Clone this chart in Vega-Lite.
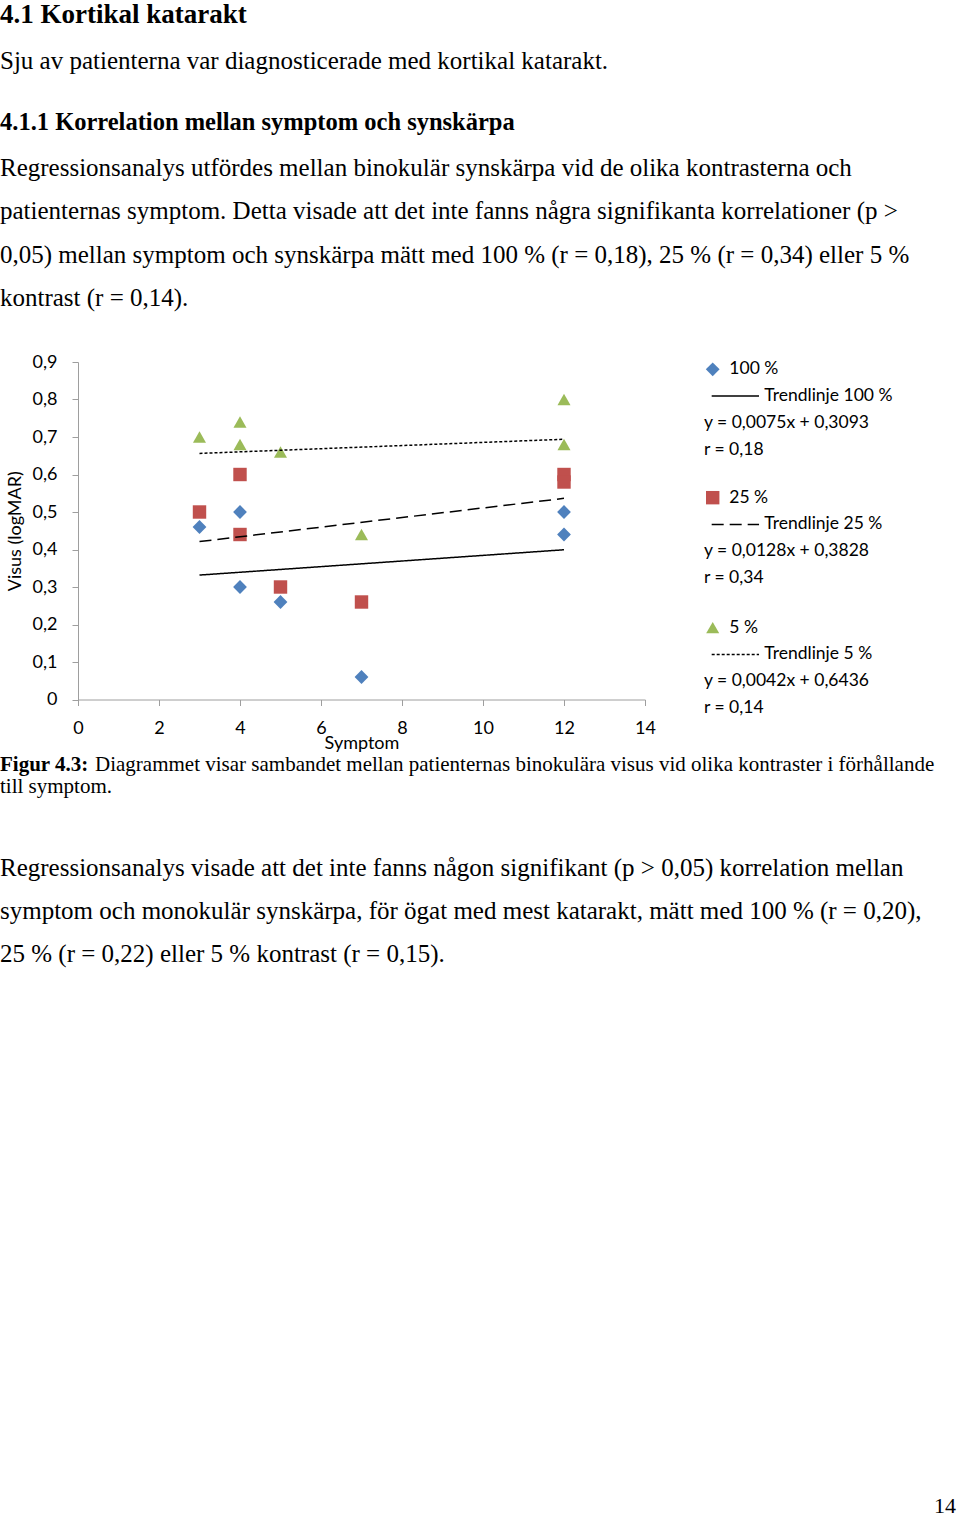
{
  "$schema": "https://vega.github.io/schema/vega-lite/v6.json",
  "padding": 0,
  "background": "white",
  "spacing": 0,
  "config": {
    "view": {"stroke": null},
    "font": "Lato",
    "text": {"color": "black"}
  },
  "datasets": {
    "page": [
      {"block": "top", "style": "h1", "row": 1, "text": "4.1 Kortikal katarakt"},
      {"block": "top", "style": "body", "row": 3.14, "text": "Sju av patienterna var diagnosticerade med kortikal katarakt."},
      {"block": "top", "style": "h2", "row": 5.95, "text": "4.1.1 Korrelation mellan symptom och synskärpa"},
      {"block": "top", "style": "body", "row": 8.05, "text": "Regressionsanalys utfördes mellan binokulär synskärpa vid de olika kontrasterna och"},
      {"block": "top", "style": "body", "row": 10.03, "text": "patienternas symptom. Detta visade att det inte fanns några signifikanta korrelationer (p >"},
      {"block": "top", "style": "body", "row": 12.05, "text": "0,05) mellan symptom och synskärpa mätt med 100 % (r = 0,18), 25 % (r = 0,34) eller 5 %"},
      {"block": "top", "style": "body", "row": 14.03, "text": "kontrast (r = 0,14)."},
      {"block": "bottom", "style": "captionlabel", "row": 0.78, "text": "Figur 4.3:"},
      {"block": "bottom", "style": "captionrest", "row": 0.78, "text": "Diagrammet visar sambandet mellan patienternas binokulära visus vid olika kontraster i förhållande"},
      {"block": "bottom", "style": "caption", "row": 1.79, "text": "till symptom."},
      {"block": "bottom", "style": "body", "row": 5.6, "text": "Regressionsanalys visade att det inte fanns någon signifikant (p > 0,05) korrelation mellan"},
      {"block": "bottom", "style": "body", "row": 7.59, "text": "symptom och monokulär synskärpa, för ögat med mest katarakt, mätt med 100 % (r = 0,20),"},
      {"block": "bottom", "style": "body", "row": 9.56, "text": "25 % (r = 0,22) eller 5 % kontrast (r = 0,15)."},
      {"block": "bottom", "style": "pagenum", "row": 34.9, "text": "14"}
    ],
    "points": [
      {"series": "100 %", "symptom": 3, "visus": 0.46},
      {"series": "100 %", "symptom": 4, "visus": 0.5},
      {"series": "100 %", "symptom": 4, "visus": 0.3},
      {"series": "100 %", "symptom": 5, "visus": 0.26},
      {"series": "100 %", "symptom": 7, "visus": 0.06},
      {"series": "100 %", "symptom": 12, "visus": 0.5},
      {"series": "100 %", "symptom": 12, "visus": 0.44},
      {"series": "25 %", "symptom": 3, "visus": 0.5},
      {"series": "25 %", "symptom": 4, "visus": 0.6},
      {"series": "25 %", "symptom": 4, "visus": 0.44},
      {"series": "25 %", "symptom": 5, "visus": 0.3},
      {"series": "25 %", "symptom": 7, "visus": 0.26},
      {"series": "25 %", "symptom": 12, "visus": 0.6},
      {"series": "25 %", "symptom": 12, "visus": 0.58},
      {"series": "5 %", "symptom": 3, "visus": 0.7},
      {"series": "5 %", "symptom": 4, "visus": 0.74},
      {"series": "5 %", "symptom": 4, "visus": 0.68},
      {"series": "5 %", "symptom": 5, "visus": 0.66},
      {"series": "5 %", "symptom": 7, "visus": 0.44},
      {"series": "5 %", "symptom": 12, "visus": 0.8},
      {"series": "5 %", "symptom": 12, "visus": 0.68}
    ],
    "trend": [
      {"series": "100 %", "symptom": 3, "visus": 0.3318},
      {"series": "100 %", "symptom": 12, "visus": 0.3993},
      {"series": "25 %", "symptom": 3, "visus": 0.4212},
      {"series": "25 %", "symptom": 12, "visus": 0.5364},
      {"series": "5 %", "symptom": 3, "visus": 0.6562},
      {"series": "5 %", "symptom": 12, "visus": 0.694}
    ],
    "legend": [
      {"series": "100 %", "row": 0, "part": "label", "text": "100 %"},
      {"series": "100 %", "row": 1, "part": "trend", "text": "Trendlinje 100 %"},
      {"series": "100 %", "row": 2, "part": "info", "text": "y = 0,0075x + 0,3093"},
      {"series": "100 %", "row": 3, "part": "info", "text": "r = 0,18"},
      {"series": "25 %", "row": 4.8, "part": "label", "text": "25 %"},
      {"series": "25 %", "row": 5.8, "part": "trend", "text": "Trendlinje 25 %"},
      {"series": "25 %", "row": 6.8, "part": "info", "text": "y = 0,0128x + 0,3828"},
      {"series": "25 %", "row": 7.8, "part": "info", "text": "r = 0,34"},
      {"series": "5 %", "row": 9.66, "part": "label", "text": "5 %"},
      {"series": "5 %", "row": 10.66, "part": "trend", "text": "Trendlinje 5 %"},
      {"series": "5 %", "row": 11.66, "part": "info", "text": "y = 0,0042x + 0,6436"},
      {"series": "5 %", "row": 12.66, "part": "info", "text": "r = 0,14"}
    ]
  },
  "vconcat": [
    {
      "width": 882,
      "height": 351.5,
      "data": {"name": "page"},
      "transform": [{"filter": "datum.block == 'top'"}],
      "encoding": {
        "x": {"datum": 0, "type": "quantitative", "scale": {"domain": [0.08125, 1], "nice": false, "zero": false}, "axis": null},
        "y": {"field": "row", "type": "quantitative", "scale": {"domain": [0, 16.16], "reverse": true, "nice": false, "zero": false}, "axis": null},
        "text": {"field": "text"}
      },
      "layer": [
        {"transform": [{"filter": "datum.style == 'h1'"}], "mark": {"type": "text", "font": "Liberation Serif", "fontSize": 27, "fontWeight": "bold", "align": "left", "baseline": "alphabetic"}},
        {"transform": [{"filter": "datum.style == 'h2'"}], "mark": {"type": "text", "font": "Liberation Serif", "fontSize": 24.5, "fontWeight": "bold", "align": "left", "baseline": "alphabetic"}},
        {"transform": [{"filter": "datum.style == 'body'"}], "mark": {"type": "text", "font": "Liberation Serif", "fontSize": 25, "align": "left", "baseline": "alphabetic"}}
      ]
    },
    {
      "spacing": 48,
      "hconcat": [
        {
          "width": 567,
          "height": 337.5,
          "encoding": {
            "x": {"field": "symptom", "type": "quantitative", "scale": {"domain": [0, 14], "nice": false},
              "axis": {"values": [0, 2, 4, 6, 8, 10, 12, 14], "grid": false, "domainColor": "#9E9E9E", "tickColor": "#9E9E9E", "tickSize": 6, "labelFont": "Lato", "labelFontSize": 18, "labelColor": "black", "labelPadding": 14, "labelFlush": false, "title": "Symptom", "titleFont": "Lato", "titleFontSize": 18, "titleFontWeight": "normal", "titleColor": "black", "titlePadding": -3}},
            "y": {"field": "visus", "type": "quantitative", "scale": {"domain": [0, 0.9], "nice": false},
              "axis": {"values": [0, 0.1, 0.2, 0.3, 0.4, 0.5, 0.6, 0.7, 0.8, 0.9], "labelExpr": "datum.value == 0 ? '0' : replace(format(datum.value, '.1f'), '.', ',')", "grid": false, "domainColor": "#9E9E9E", "tickColor": "#9E9E9E", "tickSize": 6, "labelFont": "Lato", "labelFontSize": 18, "labelColor": "black", "labelPadding": 15, "labelFlush": false, "title": "Visus (logMAR)", "titleFont": "Lato", "titleFontSize": 18, "titleFontWeight": "normal", "titleColor": "black", "titlePadding": 8}}
          },
          "layer": [
            {
              "data": {"name": "points"},
              "mark": {"type": "point", "filled": true, "opacity": 1},
              "encoding": {
                "shape": {"field": "series", "type": "nominal", "scale": {"domain": ["100 %", "25 %", "5 %"], "range": ["diamond", "square", "triangle-up"]}, "legend": null},
                "color": {"field": "series", "type": "nominal", "scale": {"domain": ["100 %", "25 %", "5 %"], "range": ["#4F81BD", "#C0504D", "#9BBB59"]}, "legend": null},
                "size": {"field": "series", "type": "nominal", "scale": {"domain": ["100 %", "25 %", "5 %"], "range": [190, 170, 210]}, "legend": null}
              }
            },
            {
              "data": {"name": "trend"},
              "mark": {"type": "line", "color": "black", "strokeWidth": 1.5},
              "encoding": {
                "detail": {"field": "series", "type": "nominal"},
                "strokeDash": {"field": "series", "type": "nominal", "scale": {"domain": ["100 %", "25 %", "5 %"], "range": [[1, 0], [12, 6], [3, 2]]}, "legend": null}
              }
            }
          ]
        },
        {
          "width": 256,
          "height": 390,
          "data": {"name": "legend"},
          "encoding": {
            "y": {"field": "row", "type": "quantitative", "scale": {"domain": [-0.273, 14.31], "reverse": true, "nice": false, "zero": false}, "axis": null}
          },
          "layer": [
            {
              "transform": [{"filter": "datum.part == 'label'"}],
              "mark": {"type": "point", "filled": true, "opacity": 1},
              "encoding": {
                "x": {"datum": 0.034, "type": "quantitative", "scale": {"domain": [0, 1]}, "axis": null},
                "shape": {"field": "series", "type": "nominal", "scale": {"domain": ["100 %", "25 %", "5 %"], "range": ["diamond", "square", "triangle-up"]}, "legend": null},
                "color": {"field": "series", "type": "nominal", "scale": {"domain": ["100 %", "25 %", "5 %"], "range": ["#284C8C", "#C0504D", "#9BBB59"]}, "legend": null},
                "size": {"field": "series", "type": "nominal", "scale": {"domain": ["100 %", "25 %", "5 %"], "range": [170, 128, 196]}, "legend": null}
              }
            },
            {
              "transform": [{"filter": "datum.part == 'label'"}],
              "mark": {"type": "text", "font": "Lato", "fontSize": 17.5, "align": "left", "baseline": "middle"},
              "encoding": {
                "x": {"datum": 0.099, "type": "quantitative", "scale": {"domain": [0, 1]}, "axis": null},
                "text": {"field": "text"}
              }
            },
            {
              "transform": [{"filter": "datum.part == 'trend'"}],
              "mark": {"type": "rule", "color": "black", "strokeWidth": 1.5},
              "encoding": {
                "x": {"datum": 0.03, "type": "quantitative", "scale": {"domain": [0, 1]}, "axis": null},
                "x2": {"datum": 0.215},
                "strokeDash": {"field": "series", "type": "nominal", "scale": {"domain": ["100 %", "25 %", "5 %"], "range": [[1, 0], [12, 6], [2, 1.5]]}, "legend": null}
              }
            },
            {
              "transform": [{"filter": "datum.part == 'trend'"}],
              "mark": {"type": "text", "font": "Lato", "fontSize": 17.5, "align": "left", "baseline": "middle"},
              "encoding": {
                "x": {"datum": 0.2355, "type": "quantitative", "scale": {"domain": [0, 1]}, "axis": null},
                "text": {"field": "text"}
              }
            },
            {
              "transform": [{"filter": "datum.part == 'info'"}],
              "mark": {"type": "text", "font": "Lato", "fontSize": 17.5, "align": "left", "baseline": "middle"},
              "encoding": {
                "x": {"datum": 0, "type": "quantitative", "scale": {"domain": [0, 1]}, "axis": null},
                "text": {"field": "text"}
              }
            }
          ]
        }
      ]
    },
    {
      "width": 882,
      "height": 764,
      "data": {"name": "page"},
      "transform": [{"filter": "datum.block == 'bottom'"}],
      "encoding": {
        "x": {"datum": 0, "type": "quantitative", "scale": {"domain": [0.08125, 1], "nice": false, "zero": false}, "axis": null},
        "y": {"field": "row", "type": "quantitative", "scale": {"domain": [0, 35.13], "reverse": true, "nice": false, "zero": false}, "axis": null},
        "text": {"field": "text"}
      },
      "layer": [
        {"transform": [{"filter": "datum.style == 'captionlabel'"}], "mark": {"type": "text", "font": "Liberation Serif", "fontSize": 21, "fontWeight": "bold", "align": "left", "baseline": "alphabetic"}},
        {"transform": [{"filter": "datum.style == 'captionrest'"}], "mark": {"type": "text", "font": "Liberation Serif", "fontSize": 21, "align": "left", "baseline": "alphabetic"},
          "encoding": {"x": {"datum": 0.099, "type": "quantitative", "scale": {"domain": [0.08125, 1], "nice": false, "zero": false}, "axis": null}}},
        {"transform": [{"filter": "datum.style == 'caption'"}], "mark": {"type": "text", "font": "Liberation Serif", "fontSize": 21, "align": "left", "baseline": "alphabetic"}},
        {"transform": [{"filter": "datum.style == 'body'"}], "mark": {"type": "text", "font": "Liberation Serif", "fontSize": 25, "align": "left", "baseline": "alphabetic"}},
        {"transform": [{"filter": "datum.style == 'pagenum'"}], "mark": {"type": "text", "font": "Liberation Serif", "fontSize": 22, "align": "right", "baseline": "alphabetic"},
          "encoding": {"x": {"datum": 0.9958, "type": "quantitative", "scale": {"domain": [0.08125, 1], "nice": false, "zero": false}, "axis": null}}}
      ]
    }
  ]
}
